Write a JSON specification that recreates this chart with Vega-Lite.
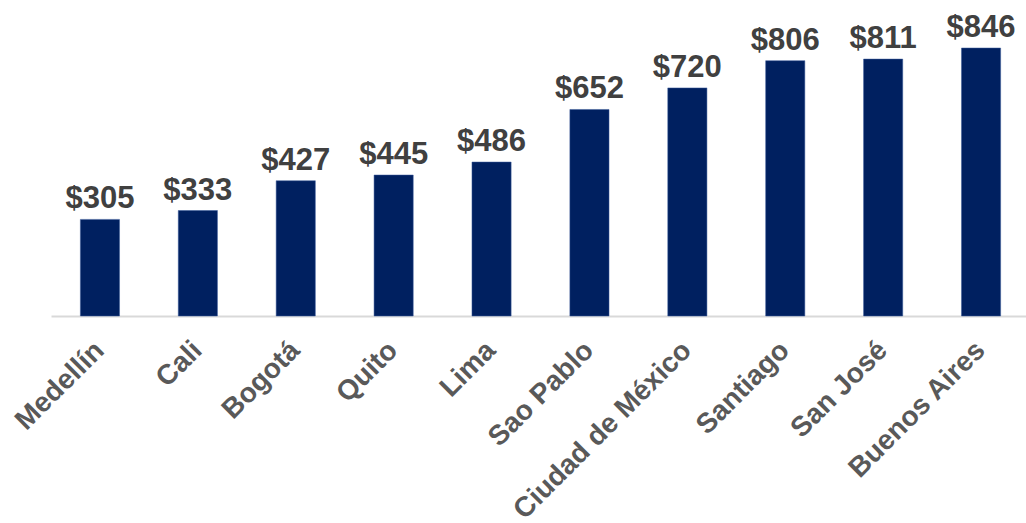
{
  "$schema": "https://vega.github.io/schema/vega-lite/v6.json",
  "autosize": {"type": "none"},
  "padding": {"left": 51, "top": 48, "right": 0, "bottom": 207},
  "width": 979,
  "height": 268,
  "background": "white",
  "config": {"view": {"stroke": null}, "font": "Liberation Sans"},
  "data": {"values": [
    {"city": "Medellín", "value": 305},
    {"city": "Cali", "value": 333},
    {"city": "Bogotá", "value": 427},
    {"city": "Quito", "value": 445},
    {"city": "Lima", "value": 486},
    {"city": "Sao Pablo", "value": 652},
    {"city": "Ciudad de México", "value": 720},
    {"city": "Santiago", "value": 806},
    {"city": "San José", "value": 811},
    {"city": "Buenos Aires", "value": 846}
  ]},
  "encoding": {
    "x": {"field": "city", "type": "nominal", "sort": null,
      "scale": {"paddingInner": 0.6, "paddingOuter": 0.3},
      "axis": {"title": null, "labelAngle": -45, "labelFontSize": 28, "labelFontWeight": "bold",
        "labelColor": "#595959", "labelPadding": 20, "labelOffset": -10, "ticks": false, "domainColor": "#d9d9d9", "domainWidth": 2,
        "labelFont": "Liberation Sans", "labelLimit": 400}},
    "y": {"field": "value", "type": "quantitative", "scale": {"domain": [0, 846], "nice": false}, "axis": null}
  },
  "layer": [
    {"mark": {"type": "bar", "color": "#002060", "stroke": "#3a5a9a", "strokeWidth": 0.5}},
    {"mark": {"type": "text", "baseline": "alphabetic", "dy": -11, "fontSize": 31, "fontWeight": "bold", "color": "#404040", "font": "Liberation Sans"},
     "encoding": {"text": {"field": "value", "type": "quantitative", "format": "$.0f"}}}
  ]
}
